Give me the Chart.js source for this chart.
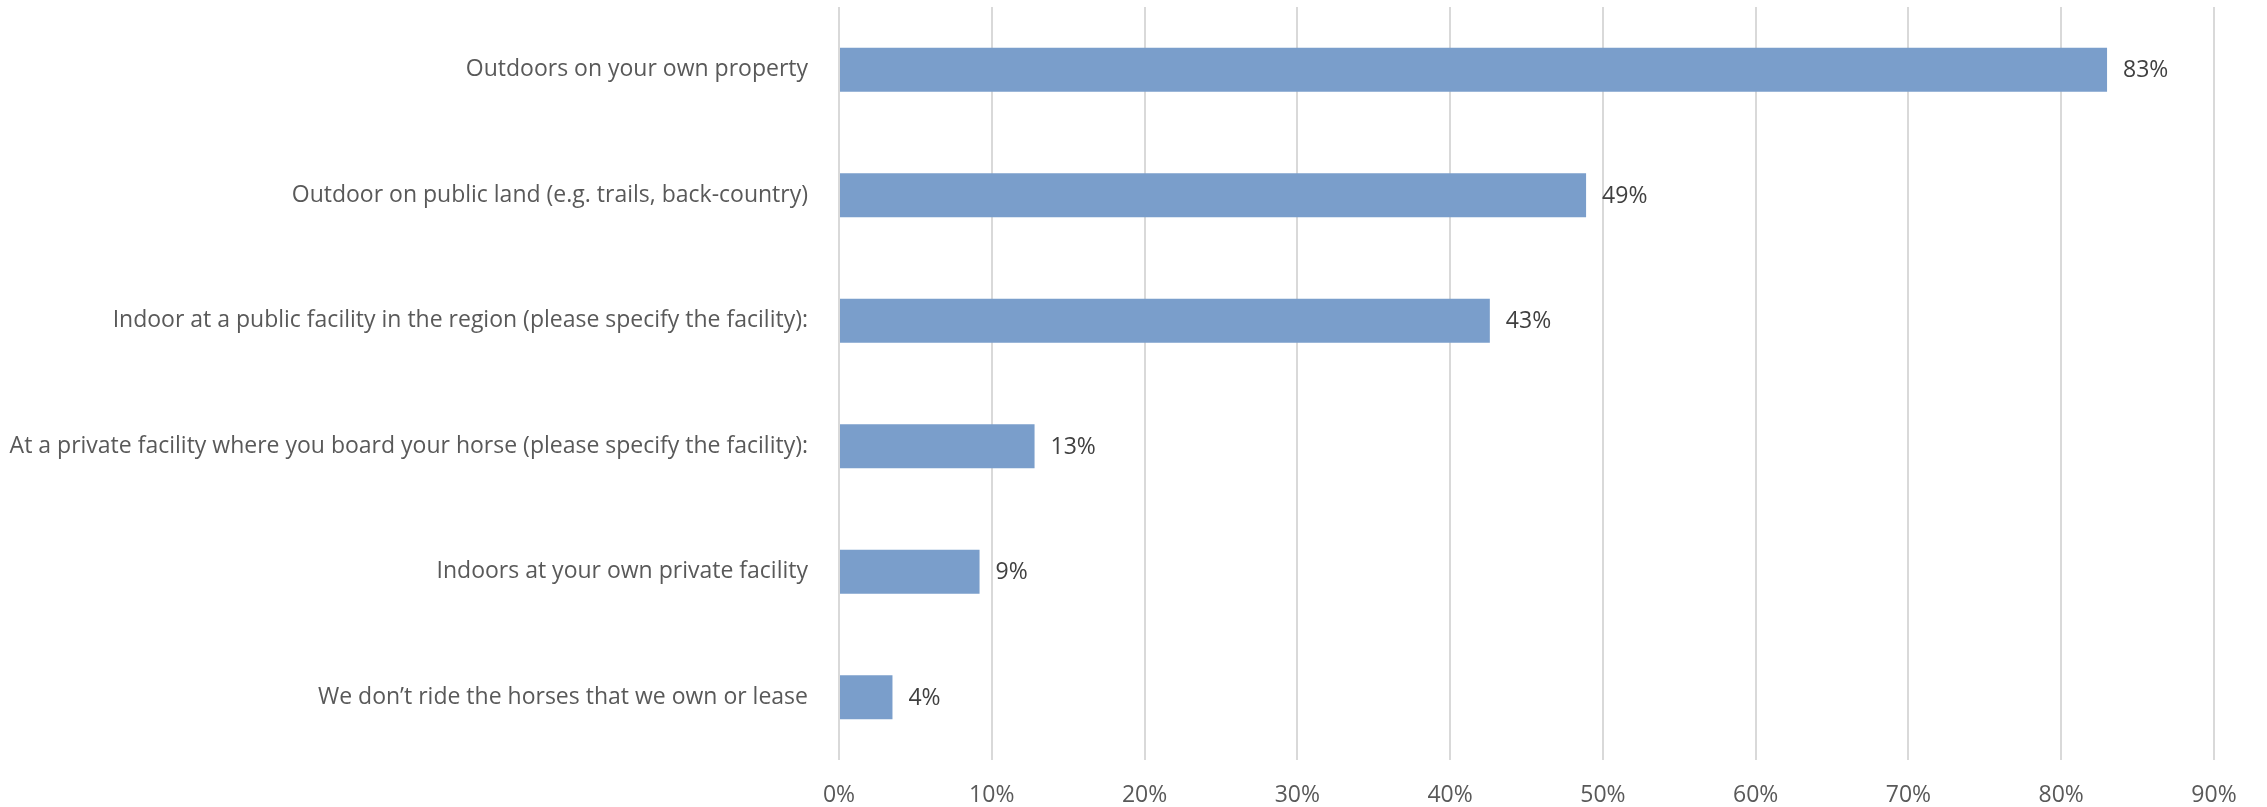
<!DOCTYPE html>
<html>
<head>
<meta charset="utf-8">
<script src="https://cdn.jsdelivr.net/npm/chart.js@4/dist/chart.umd.min.js"></script>
<style>
  html, body { margin: 0; padding: 0; background: #ffffff; }
  #wrap { width: 2267px; height: 807px; position: relative; }
</style>
</head>
<body>
<div id="wrap"><canvas id="chart"></canvas></div>
<script>
// Where respondents ride the horses they own or lease (share of respondents, %)
const categories = [
  "Outdoors on your own property",
  "Outdoor on public land (e.g. trails, back-country)",
  "Indoor at a public facility in the region (please specify the facility):",
  "At a private facility where you board your horse (please specify the facility):",
  "Indoors at your own private facility",
  "We don\u2019t ride the horses that we own or lease"
];
const shares = [83.0, 48.9, 42.6, 12.8, 9.2, 3.5];
const tickValues = [0, 10, 20, 30, 40, 50, 60, 70, 80, 90];

const FONT = "'Open Sans', 'Noto Sans', sans-serif";

// Writes the rounded percentage just right of each bar
const valueLabels = {
  id: 'valueLabels',
  afterDatasetsDraw(chart) {
    const ctx = chart.ctx;
    const meta = chart.getDatasetMeta(0);
    ctx.save();
    ctx.font = "23px " + FONT;
    ctx.fillStyle = "#404040";
    ctx.textAlign = "left";
    ctx.textBaseline = "middle";
    meta.data.forEach((bar, i) => {
      const v = chart.data.datasets[0].data[i];
      ctx.fillText(Math.round(v) + "%", bar.x + 16, bar.y + 1);
    });
    ctx.restore();
  }
};

new Chart(document.getElementById("chart"), {
  type: "bar",
  data: {
    labels: categories,
    datasets: [{
      data: shares,
      backgroundColor: "#7A9ECB",
      borderWidth: 0,
      barPercentage: 0.35,
      categoryPercentage: 1.0
    }]
  },
  options: {
    indexAxis: "y",
    responsive: true,
    maintainAspectRatio: false,
    animation: false,
    layout: { padding: { top: 7, right: 53, left: 0, bottom: 0 } },
    plugins: { legend: { display: false }, tooltip: { enabled: false } },
    scales: {
      x: {
        min: 0,
        max: 90,
        afterBuildTicks(scale) { scale.ticks = tickValues.map(v => ({ value: v })); },
        afterFit(scale) {
          scale.height = 47;
          scale.paddingLeft = 0;
          scale.paddingRight = 0;
        },
        grid: { color: "#D9D9D9", lineWidth: 2, drawTicks: false },
        border: { display: false },
        ticks: {
          padding: 22,
          color: "#595959",
          font: { family: FONT, size: 23 },
          callback: v => v + "%"
        }
      },
      y: {
        afterFit(scale) {
          scale.width = 839;
          scale.paddingTop = 0;
          scale.paddingBottom = 0;
        },
        grid: { display: false, drawTicks: false },
        border: { display: false },
        ticks: {
          padding: 31,
          color: "#595959",
          font: { family: FONT, size: 23 }
        }
      }
    }
  },
  plugins: [valueLabels]
});
</script>
</body>
</html>
